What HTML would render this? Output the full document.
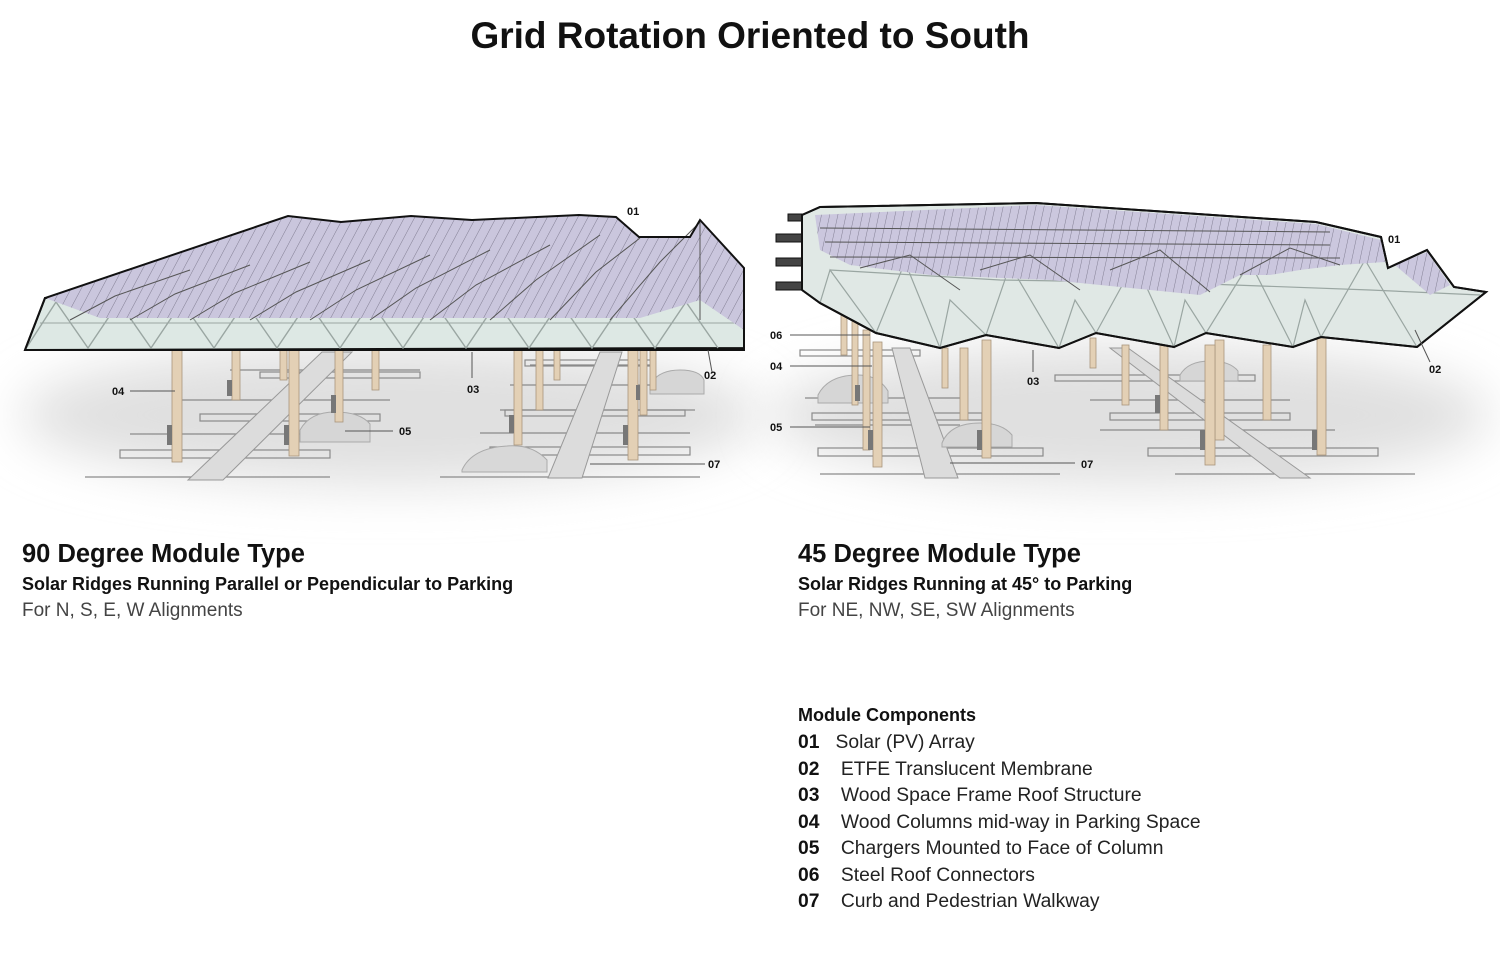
<!DOCTYPE html>
<html><head><meta charset="utf-8"><style>
html,body{margin:0;padding:0;background:#fff;width:1500px;height:971px;overflow:hidden;font-family:"Liberation Sans",sans-serif;}
.t{position:absolute;white-space:nowrap;color:#111;}
</style></head><body>
<svg width="1500" height="971" style="position:absolute;left:0;top:0">
<defs>
<filter id="bl" x="-20%" y="-50%" width="140%" height="200%"><feGaussianBlur stdDeviation="25"/></filter>
<pattern id="pvL" width="9" height="9" patternUnits="userSpaceOnUse" patternTransform="rotate(28)">
<rect width="9" height="9" fill="#cac6dd"/><line x1="0" y1="0" x2="0" y2="9" stroke="#6f6c80" stroke-width="0.8"/></pattern>
<pattern id="pvR" width="8" height="8" patternUnits="userSpaceOnUse" patternTransform="rotate(12)">
<rect width="8" height="8" fill="#cbc7de"/><line x1="0" y1="0" x2="0" y2="8" stroke="#6f6c80" stroke-width="0.8"/></pattern>
</defs>
<!-- ground shadows -->
<ellipse cx="390" cy="415" rx="370" ry="70" fill="#e0e0e0" filter="url(#bl)"/>
<ellipse cx="1130" cy="415" rx="360" ry="70" fill="#e0e0e0" filter="url(#bl)"/>

<!-- LEFT parking lines -->
<g stroke="#8a8a8a" stroke-width="1.2" fill="none">
<line x1="85" y1="477" x2="330" y2="477"/><line x1="440" y1="477" x2="700" y2="477"/>
<line x1="130" y1="434" x2="330" y2="434"/><line x1="175" y1="400" x2="390" y2="400"/>
<line x1="230" y1="370" x2="420" y2="370"/><line x1="480" y1="433" x2="690" y2="433"/>
<line x1="500" y1="410" x2="695" y2="410"/><line x1="510" y1="385" x2="690" y2="385"/>
<line x1="530" y1="365" x2="650" y2="365"/>
<rect x="120" y="450" width="210" height="8"/><rect x="200" y="414" width="180" height="7"/>
<rect x="260" y="372" width="160" height="6"/><rect x="490" y="447" width="200" height="8"/>
<rect x="505" y="410" width="180" height="6"/><rect x="525" y="360" width="130" height="6"/>
</g>
<polygon points="322,352 352,352 223,480 188,480" fill="#dcdcdc" stroke="#999" stroke-width="1"/>
<polygon points="600,352 622,352 582,478 548,478" fill="#dcdcdc" stroke="#999" stroke-width="1"/>
<path d="M300 430 q10-18 35-18 q25 0 35 12 l0 18 l-70 0z" fill="#d6d6d6" stroke="#aaa"/>
<path d="M462 470 q10-22 45-24 q25-2 40 14 l0 12 l-85 0z" fill="#d8d8d8" stroke="#aaa"/>
<path d="M650 385 q8-15 30-15 q20 0 24 10 l0 14 l-54 0z" fill="#d6d6d6" stroke="#aaa"/>
<g fill="#e3d0b5" stroke="#a8957c" stroke-width="0.8">
<rect x="172" y="350" width="10" height="112"/><rect x="232" y="350" width="8" height="50"/>
<rect x="280" y="350" width="7" height="30"/><rect x="289" y="350" width="10" height="106"/>
<rect x="335" y="350" width="8" height="72"/><rect x="372" y="350" width="7" height="40"/>
<rect x="514" y="350" width="8" height="95"/><rect x="536" y="350" width="7" height="60"/>
<rect x="554" y="350" width="6" height="30"/><rect x="628" y="350" width="10" height="110"/>
<rect x="640" y="350" width="7" height="65"/><rect x="650" y="350" width="6" height="40"/>
</g>
<g fill="#777"><rect x="167" y="425" width="5" height="20"/><rect x="227" y="380" width="5" height="16"/><rect x="284" y="425" width="5" height="20"/><rect x="331" y="395" width="5" height="18"/><rect x="509" y="415" width="5" height="18"/><rect x="623" y="425" width="5" height="20"/><rect x="636" y="385" width="4" height="15"/></g>

<!-- LEFT roof -->
<polygon points="25,350 45,298 744,298 744,348" fill="#dde8e4" stroke="#111" stroke-width="2"/>
<polyline points="25,350 56,302 88,348 119,302 151,348 182,302 214,348 245,302 277,348 308,302 340,348 371,302 403,348 434,302 466,348 497,302 529,348 560,302 592,348 623,302 655,348 686,302 718,348" fill="none" stroke="#9aa6a2" stroke-width="1.4"/>
<line x1="40" y1="323" x2="742" y2="323" stroke="#9aa6a2" stroke-width="1"/>
<polygon points="45,298 288,216 341,222 411,216 472,220 579,215 616,217 639,237 690,237 700,220 744,268 744,330 700,300 640,318 100,318" fill="url(#pvL)"/>
<g fill="none" stroke="#555" stroke-width="1">
<polyline points="70,320 115,296 190,270"/><polyline points="130,320 175,294 250,265"/><polyline points="190,320 235,293 310,262"/>
<polyline points="250,320 296,292 370,260"/><polyline points="310,320 356,290 430,255"/><polyline points="370,320 416,288 490,250"/>
<polyline points="430,320 476,285 550,245"/><polyline points="490,320 536,280 600,235"/><polyline points="550,320 596,272 640,238"/>
<polyline points="610,320 660,262 700,222"/><line x1="700" y1="222" x2="700" y2="320"/>
</g>
<polyline points="25,350 45,298 288,216 341,222 411,216 472,220 579,215 616,217 639,237 690,237 700,220 744,268 744,350 25,350" fill="none" stroke="#111" stroke-width="2"/>

<!-- RIGHT parking -->
<g stroke="#8a8a8a" stroke-width="1.2" fill="none">
<line x1="820" y1="474" x2="1060" y2="474"/><line x1="1175" y1="474" x2="1415" y2="474"/>
<line x1="815" y1="425" x2="960" y2="425"/><line x1="805" y1="398" x2="960" y2="398"/>
<line x1="1100" y1="430" x2="1335" y2="430"/><line x1="1090" y1="400" x2="1290" y2="400"/>
<rect x="818" y="448" width="225" height="8"/><rect x="812" y="413" width="170" height="7"/>
<rect x="1148" y="448" width="230" height="8"/><rect x="1110" y="413" width="180" height="7"/>
<rect x="1055" y="375" width="200" height="6"/><rect x="800" y="350" width="120" height="6"/>
</g>
<polygon points="892,348 910,348 958,478 925,478" fill="#dcdcdc" stroke="#999"/>
<polygon points="1110,348 1128,348 1310,478 1280,478" fill="#dcdcdc" stroke="#999"/>
<path d="M818 395 q10-20 40-20 q20 0 30 16 l0 12 l-70 0z" fill="#d6d6d6" stroke="#aaa"/>
<path d="M942 443 q8-20 38-20 q22 0 32 12 l0 12 l-70 0z" fill="#d6d6d6" stroke="#aaa"/>
<path d="M1180 375 q8-14 30-14 q20 0 28 10 l0 10 l-58 0z" fill="#d6d6d6" stroke="#aaa"/>
<g fill="#e3d0b5" stroke="#a8957c" stroke-width="0.8">
<rect x="841" y="315" width="6" height="40"/><rect x="852" y="320" width="6" height="85"/>
<rect x="863" y="330" width="7" height="120"/><rect x="873" y="342" width="9" height="125"/>
<rect x="942" y="348" width="6" height="40"/><rect x="960" y="348" width="8" height="72"/>
<rect x="982" y="340" width="9" height="118"/><rect x="1090" y="338" width="6" height="30"/>
<rect x="1122" y="345" width="7" height="60"/><rect x="1160" y="345" width="8" height="85"/>
<rect x="1215" y="340" width="9" height="100"/>
<rect x="1205" y="345" width="10" height="120"/><rect x="1263" y="345" width="8" height="75"/>
<rect x="1317" y="337" width="9" height="118"/>
</g>
<g fill="#777"><rect x="868" y="430" width="5" height="20"/><rect x="977" y="430" width="5" height="20"/><rect x="1200" y="430" width="5" height="20"/><rect x="1312" y="430" width="5" height="20"/><rect x="855" y="385" width="5" height="16"/><rect x="1155" y="395" width="5" height="18"/></g>

<!-- RIGHT roof -->
<g fill="#444" stroke="#111" stroke-width="1"><rect x="776" y="234" width="28" height="8"/><rect x="776" y="258" width="28" height="8"/><rect x="776" y="282" width="28" height="8"/><rect x="788" y="214" width="22" height="7"/></g>
<polygon points="802,290 820,303 876,333 940,348 986,335 1059,348 1096,333 1174,347 1206,333 1293,347 1321,337 1417,347 1486,292 1454,287 1427,250 1388,268 1381,237 1316,222 1036,203 820,207 802,215" fill="#e0e8e5" stroke="#111" stroke-width="2"/>
<g fill="none" stroke="#9aa6a2" stroke-width="1.2">
<polyline points="820,303 830,270 876,333 905,262 940,348 950,300 986,335 1010,265 1059,348 1075,300 1096,333 1135,262 1174,347 1185,300 1206,333 1250,262 1293,347 1305,300 1321,337 1365,260 1417,347"/>
<polyline points="830,270 1000,280 1180,283 1370,290 1480,295"/>
</g>
<polygon points="815,215 1036,205 1316,224 1381,240 1385,262 1340,265 1300,270 1270,275 1240,275 1200,295 1050,280 930,275 850,265 820,250" fill="url(#pvR)"/>
<polygon points="1395,265 1427,252 1450,285 1430,295" fill="url(#pvR)"/>
<g fill="none" stroke="#555" stroke-width="1">
<line x1="820" y1="228" x2="1330" y2="232"/><line x1="825" y1="242" x2="1330" y2="245"/><line x1="830" y1="257" x2="1340" y2="258"/>
<polyline points="860,268 910,255 960,290"/><polyline points="980,270 1030,255 1080,290"/><polyline points="1110,270 1160,250 1210,292"/><polyline points="1240,275 1290,248 1340,265"/>
</g>
<polyline points="802,290 820,303 876,333 940,348 986,335 1059,348 1096,333 1174,347 1206,333 1293,347 1321,337 1417,347 1486,292 1454,287 1427,250 1388,268 1381,237 1316,222 1036,203 820,207 802,215 802,290" fill="none" stroke="#111" stroke-width="2"/>

<g stroke="#555" stroke-width="1">
<line x1="130" y1="391" x2="175" y2="391"/><line x1="472" y1="352" x2="472" y2="378"/>
<line x1="708" y1="350" x2="712" y2="372"/><line x1="345" y1="431" x2="393" y2="431"/>
<line x1="590" y1="464" x2="705" y2="464"/>
<line x1="790" y1="335" x2="870" y2="335"/><line x1="790" y1="366" x2="872" y2="366"/>
<line x1="790" y1="427" x2="870" y2="427"/><line x1="1033" y1="350" x2="1033" y2="372"/>
<line x1="1415" y1="330" x2="1430" y2="362"/><line x1="950" y1="463" x2="1075" y2="463"/>
</g>
<g font-family="Liberation Sans" font-weight="bold" font-size="11" fill="#111">
<text x="627" y="215">01</text><text x="704" y="379">02</text><text x="467" y="393">03</text>
<text x="112" y="395">04</text><text x="399" y="435">05</text><text x="708" y="468">07</text>
<text x="1388" y="243">01</text><text x="1429" y="373">02</text><text x="1027" y="385">03</text>
<text x="770" y="370">04</text><text x="770" y="431">05</text><text x="770" y="339">06</text><text x="1081" y="468">07</text>
</g>
</svg>

<div class="t" style="left:0;width:1500px;text-align:center;top:15px;font-size:37px;font-weight:bold;">Grid Rotation Oriented to South</div>

<div class="t" style="left:22px;top:540px;font-size:25.5px;font-weight:bold;">90 Degree Module Type</div>
<div class="t" style="left:22px;top:574px;font-size:18px;font-weight:bold;">Solar Ridges Running Parallel or Pependicular to Parking</div>
<div class="t" style="left:22px;top:600px;font-size:19px;color:#444;">For N, S, E, W Alignments</div>

<div class="t" style="left:798px;top:540px;font-size:25.5px;font-weight:bold;">45 Degree Module Type</div>
<div class="t" style="left:798px;top:574px;font-size:18px;font-weight:bold;">Solar Ridges Running at 45° to Parking</div>
<div class="t" style="left:798px;top:600px;font-size:19px;color:#444;">For NE, NW, SE, SW Alignments</div>

<div class="t" style="left:798px;top:705px;font-size:18px;font-weight:bold;">Module Components</div>
<div style="position:absolute;left:798px;top:730px;font-size:19.3px;line-height:26.5px;color:#222;white-space:nowrap">
<div><b style="color:#111">01</b>&nbsp;&nbsp;&nbsp;Solar (PV) Array</div>
<div><b style="color:#111">02</b>&nbsp;&nbsp;&nbsp;&nbsp;ETFE Translucent Membrane</div>
<div><b style="color:#111">03</b>&nbsp;&nbsp;&nbsp;&nbsp;Wood Space Frame Roof Structure</div>
<div><b style="color:#111">04</b>&nbsp;&nbsp;&nbsp;&nbsp;Wood Columns mid-way in Parking Space</div>
<div><b style="color:#111">05</b>&nbsp;&nbsp;&nbsp;&nbsp;Chargers Mounted to Face of Column</div>
<div><b style="color:#111">06</b>&nbsp;&nbsp;&nbsp;&nbsp;Steel Roof Connectors</div>
<div><b style="color:#111">07</b>&nbsp;&nbsp;&nbsp;&nbsp;Curb and Pedestrian Walkway</div>
</div>
</body></html>
